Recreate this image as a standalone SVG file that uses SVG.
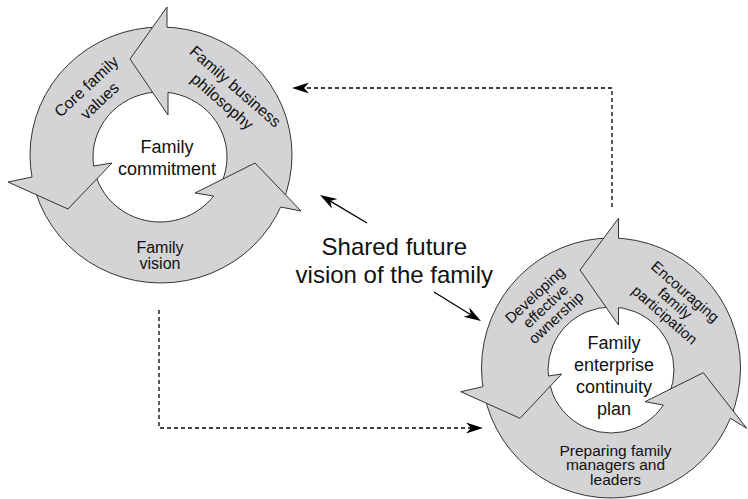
<svg xmlns="http://www.w3.org/2000/svg" width="748" height="499" viewBox="0 0 748 499">
<defs>
<style>
.ring{fill:#d4d4d6;fill-rule:evenodd;stroke:none}
.edge{fill:none;stroke:#333;stroke-width:1}
.headfill{fill:#d4d4d6;stroke:none}
.headline{fill:none;stroke:#333;stroke-width:1;stroke-linejoin:miter}
text{font-family:"Liberation Sans",Arial,Helvetica,sans-serif;fill:#111}
.lbl{font-size:16px;text-anchor:middle}
.lbls{font-size:15px;text-anchor:middle}
.lblp{font-size:15.5px;text-anchor:middle}
.ctr{font-size:18px;text-anchor:middle}
.big{font-size:24px;text-anchor:middle}
.conn{fill:none;stroke:#000;stroke-width:1.3}
.dash{stroke-dasharray:4 3}
</style>
<marker id="ah" viewBox="-8 -6 19 12" refX="0" refY="0" markerWidth="19" markerHeight="12" markerUnits="userSpaceOnUse" orient="auto">
<path d="M10,0 L-7,-5.5 L-2,0 L-7,5.5 Z" fill="#000"/>
</marker>
</defs>
<rect width="748" height="499" fill="#fff"/>
<g id="connectors">
<path class="conn dash" d="M612,207 V88 H302" marker-end="url(#ah)"/>
<path class="conn dash" d="M159,310 V428 H473" marker-end="url(#ah)"/>
<path class="conn" d="M367,223 L328.6,200.1" marker-end="url(#ah)"/>
<path class="conn" d="M434,292 L472.4,315.8" marker-end="url(#ah)"/>
</g>
<g id="cycle-left">
<path class="ring" d="M30,155 A131,128 0 1,0 292,155 A131,128 0 1,0 30,155 Z M93,157 A67,65 0 1,0 227,157 A67,65 0 1,0 93,157 Z"/>
<ellipse class="edge" cx="161" cy="155" rx="131" ry="128"/>
<ellipse class="edge" cx="160" cy="157" rx="67" ry="65"/>
<g id="family-business-philosophy">
<polygon class="headfill" points="167,27.1 167,7 130,59 168,115 168,92.5"/>
<polyline class="headline" points="167,27.1 167,7 130,59 168,115 168,92.5"/>
<text class="lbl" transform="translate(231.7,90.5) rotate(41)"><tspan x="0" y="0">Family business</tspan><tspan x="0" y="20">philosophy</tspan></text>
</g>
<g id="core-family-values">
<polygon class="headfill" points="31.95,177 8,182 68,209 112,163 93.65,166"/>
<polyline class="headline" points="31.95,177 8,182 68,209 112,163 93.65,166"/>
<text class="lbl" transform="translate(90,90.5) rotate(-43)"><tspan x="0" y="0">Core family</tspan><tspan x="0" y="19.5">values</tspan></text>
</g>
<g id="family-vision">
<polygon class="headfill" points="213.6,196 195,193 255,163 301,211 280.7,207"/>
<polyline class="headline" points="213.6,196 195,193 255,163 301,211 280.7,207"/>
<text class="lbl"><tspan x="160" y="253">Family</tspan><tspan x="160" y="269">vision</tspan></text>
</g>
<g id="family-commitment">
<text class="ctr"><tspan x="167" y="152.5">Family</tspan><tspan x="167" y="175">commitment</tspan></text>
</g>
</g>
<g id="shared-future-vision">
<text class="big"><tspan x="394.3" y="255">Shared future</tspan><tspan x="394.3" y="283">vision of the family</tspan></text>
</g>
<g id="cycle-right">
<path class="ring" d="M481.5,368 A129.5,130 0 1,0 740.5,368 A129.5,130 0 1,0 481.5,368 Z M548,370 A63,63 0 1,0 674,370 A63,63 0 1,0 548,370 Z"/>
<ellipse class="edge" cx="611" cy="368" rx="129.5" ry="130"/>
<circle class="edge" cx="611" cy="370" r="63"/>
<g id="encouraging-family-participation">
<polygon class="headfill" points="618.5,238.2 618.5,218.3 580,270 618.5,325 618.5,307.4"/>
<polyline class="headline" points="618.5,238.2 618.5,218.3 580,270 618.5,325 618.5,307.4"/>
<text class="lbls" transform="translate(681.7,295.5) rotate(41)"><tspan x="0" y="0">Encouraging</tspan><tspan x="0" y="15.5">family</tspan><tspan x="0" y="31">participation</tspan></text>
</g>
<g id="developing-effective-ownership">
<polygon class="headfill" points="482.85,386.7 460.7,391.7 520,418.3 561.7,374 548.3,376"/>
<polyline class="headline" points="482.85,386.7 460.7,391.7 520,418.3 561.7,374 548.3,376"/>
<text class="lbls" transform="translate(538.4,298.7) rotate(-43)"><tspan x="0" y="0">Developing</tspan><tspan x="0" y="15.5">effective</tspan><tspan x="0" y="31">ownership</tspan></text>
</g>
<g id="preparing-family-managers">
<polygon class="headfill" points="663.4,405 645,401.7 703.3,372.7 746.7,428.3 730.4,418.3"/>
<polyline class="headline" points="663.4,405 645,401.7 703.3,372.7 746.7,428.3 730.4,418.3"/>
<text class="lblp"><tspan x="615.5" y="455.5">Preparing family</tspan><tspan x="615.5" y="470">managers and</tspan><tspan x="615.5" y="484.5">leaders</tspan></text>
</g>
<g id="family-enterprise-continuity-plan">
<text class="ctr"><tspan x="614" y="349">Family</tspan><tspan x="614" y="371">enterprise</tspan><tspan x="614" y="393">continuity</tspan><tspan x="614" y="414.5">plan</tspan></text>
</g>
</g>
</svg>
